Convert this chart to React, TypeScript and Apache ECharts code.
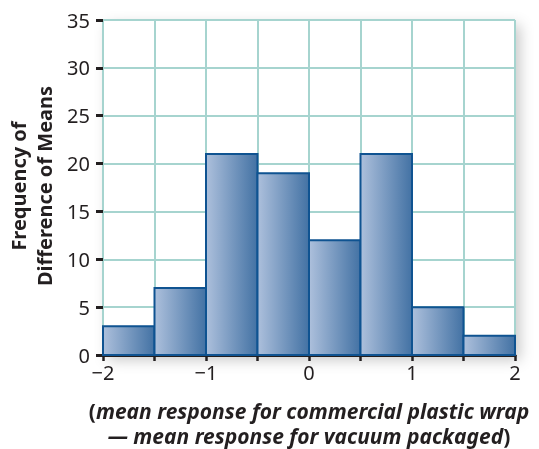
import React, { useEffect, useRef } from "react";
import * as echarts from "echarts";

const binStarts = [-2, -1.5, -1, -0.5, 0, 0.5, 1, 1.5];
const binWidth = 0.5;
const frequencies = [3, 7, 21, 19, 12, 21, 5, 2];
const yTitleLines = ["Frequency of", "Difference of Means"];
const xTitleLine1 = "mean response for commercial plastic wrap";
const xTitleLine2 = "— mean response for vacuum packaged";

const FONT = "'Noto Sans', 'Open Sans', sans-serif";

export default function App() {
  const ref = useRef<HTMLDivElement>(null);
  useEffect(() => {
    if (!ref.current) return;
    const chart = echarts.init(ref.current, null, { renderer: "svg" });
    const data = binStarts.map((s, i) => [s, s + binWidth, frequencies[i]]);
    const rich = {
      n: { font: `bold 21px ${FONT}`, fill: "#231f20", lineHeight: 22 },
      i: { font: `italic bold 21px ${FONT}`, fill: "#231f20", lineHeight: 22 },
    };
    chart.setOption({
      animation: false,
      grid: {
        left: 103,
        right: 24,
        top: 20,
        bottom: 94,
        show: true,
        backgroundColor: "#ffffff",
        borderWidth: 0,
        shadowBlur: 14,
        shadowColor: "rgba(0,0,0,0.22)",
        shadowOffsetX: 5,
        shadowOffsetY: 5,
      },
      xAxis: {
        type: "value",
        min: -2,
        max: 2,
        interval: 0.5,
        axisLine: { show: true, onZero: false, lineStyle: { color: "#231f20", width: 3 } },
        axisTick: { show: true, length: 6, lineStyle: { color: "#231f20", width: 2.5 } },
        splitLine: { show: true, lineStyle: { color: "#a6d4cf", width: 2 } },
        axisLabel: {
          color: "#231f20",
          fontFamily: FONT,
          fontSize: 20,
          margin: 7,
          formatter: (v: number) =>
            Number.isInteger(v) ? (v < 0 ? "\u2212" + Math.abs(v) : String(v)) : "",
        },
      },
      yAxis: {
        type: "value",
        min: 0,
        max: 35,
        interval: 5,
        axisLine: { show: false, onZero: false },
        axisTick: { show: true, length: 7, lineStyle: { color: "#231f20", width: 3 } },
        splitLine: { show: true, lineStyle: { color: "#a6d4cf", width: 2 } },
        axisLabel: { color: "#231f20", fontFamily: FONT, fontSize: 20, margin: 13 },
      },
      series: [
        {
          type: "custom",
          data,
          encode: { x: [0, 1], y: 2 },
          renderItem: (params: any, api: any) => {
            const p0 = api.coord([api.value(0), api.value(2)]);
            const p1 = api.coord([api.value(1), 0]);
            return {
              type: "rect",
              shape: { x: p0[0], y: p0[1], width: p1[0] - p0[0], height: p1[1] - p0[1] },
              style: {
                fill: new echarts.graphic.LinearGradient(0, 0, 1, 0, [
                  { offset: 0, color: "#adc0dc" },
                  { offset: 1, color: "#4372a4" },
                ]),
                stroke: "#0f5391",
                lineWidth: 2,
              },
            };
          },
          z: 3,
        },
      ],
      graphic: [
        {
          type: "text",
          x: 18,
          y: 186,
          rotation: Math.PI / 2,
          style: {
            text: yTitleLines[0],
            font: `bold 20px ${FONT}`,
            fill: "#231f20",
            textAlign: "center",
            textVerticalAlign: "middle",
          },
        },
        {
          type: "text",
          x: 44,
          y: 186,
          rotation: Math.PI / 2,
          style: {
            text: yTitleLines[1],
            font: `bold 20px ${FONT}`,
            fill: "#231f20",
            textAlign: "center",
            textVerticalAlign: "middle",
          },
        },
        {
          type: "text",
          x: 309,
          y: 411,
          style: {
            text: "{n|(}{i|" + xTitleLine1 + "}",
            textAlign: "center",
            textVerticalAlign: "middle",
            rich,
          },
        },
        {
          type: "text",
          x: 309,
          y: 436,
          style: {
            text: "{i|" + xTitleLine2 + "}{n|)}",
            textAlign: "center",
            textVerticalAlign: "middle",
            rich,
          },
        },
      ],
    });
    return () => chart.dispose();
  }, []);
  return (
    <div
      ref={ref}
      style={{ position: "fixed", left: 0, top: 0, width: 539, height: 449 }}
    />
  );
}
